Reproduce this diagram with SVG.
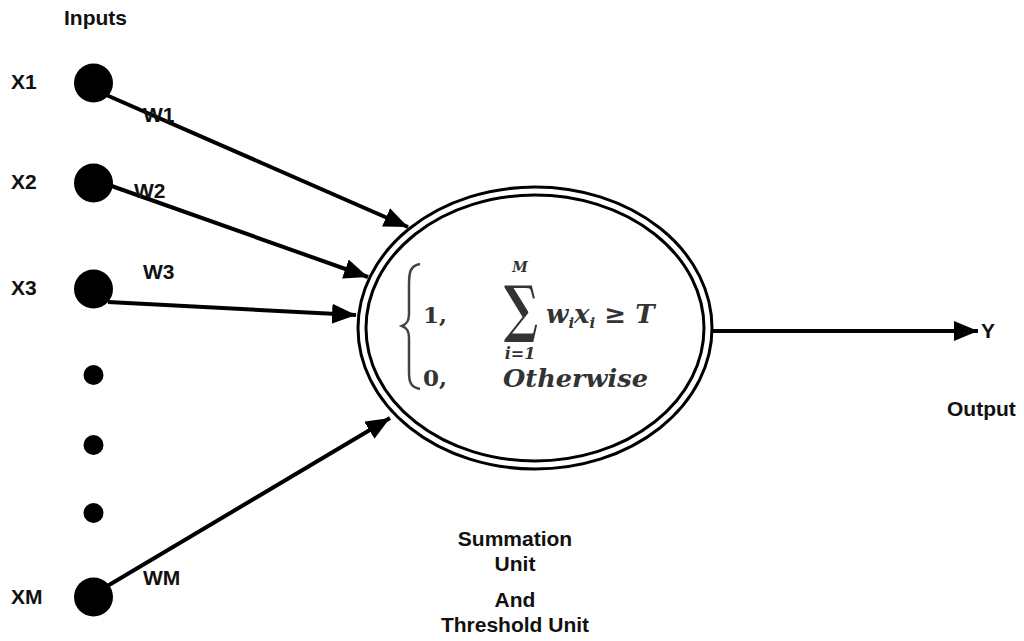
<svg xmlns="http://www.w3.org/2000/svg" width="1024" height="641" viewBox="0 0 1024 641">
<style>
.lbl{font-family:"Liberation Sans",Arial,sans-serif;font-weight:bold;font-size:21px;fill:#111}
.ctr{text-anchor:middle}
.math{font-family:"DejaVu Serif","Liberation Serif",serif;font-weight:bold;fill:#333}
.conn{stroke:#000;stroke-width:4;fill:none}
</style>
<defs>
<marker id="ah" markerUnits="userSpaceOnUse" markerWidth="26" markerHeight="22" refX="24" refY="10" orient="auto">
<path d="M0,0 L24,10 L0,20 Z" fill="#000"/>
</marker>
</defs>
<rect width="1024" height="641" fill="#fff"/>
<text class="lbl" x="64" y="25">Inputs</text>
<g id="x1"><circle cx="93.5" cy="83" r="19.5" fill="#000"/><text class="lbl" x="11" y="89">X1</text></g>
<g id="x2"><circle cx="93.5" cy="183" r="19.5" fill="#000"/><text class="lbl" x="11" y="189">X2</text></g>
<g id="x3"><circle cx="93.5" cy="289" r="19.5" fill="#000"/><text class="lbl" x="11" y="295">X3</text></g>
<g id="dots"><circle cx="93.5" cy="375" r="10" fill="#000"/><circle cx="93.5" cy="445" r="10" fill="#000"/><circle cx="93.5" cy="513" r="10" fill="#000"/></g>
<g id="xm"><circle cx="93.5" cy="597" r="19.5" fill="#000"/><text class="lbl" x="11" y="604">XM</text></g>
<g id="connectors">
<line class="conn" x1="104" y1="94" x2="408" y2="227" marker-end="url(#ah)"/>
<line class="conn" x1="106" y1="184" x2="368" y2="277" marker-end="url(#ah)"/>
<line class="conn" x1="108" y1="302" x2="356" y2="315" marker-end="url(#ah)"/>
<line class="conn" x1="104" y1="588" x2="390" y2="418" marker-end="url(#ah)"/>
<line class="conn" x1="712" y1="331" x2="978" y2="331" marker-end="url(#ah)"/>
</g>
<g id="weights">
<text class="lbl" x="143" y="122">W1</text>
<text class="lbl" x="134" y="198">W2</text>
<text class="lbl" x="143" y="279">W3</text>
<text class="lbl" x="143" y="585">WM</text>
</g>
<g id="unit">
<ellipse cx="535" cy="328" rx="177" ry="141" fill="#fff" stroke="#000" stroke-width="3"/>
<ellipse cx="535" cy="328" rx="169" ry="133" fill="#fff" stroke="#000" stroke-width="3"/>
<path d="M420,264 C410,266 409,272 409,285 L409,314 C409,321 407,324 402,326 C407,328 409,331 409,338 L409,372 C409,383 411,387 420,389" fill="none" stroke="#444" stroke-width="2.5"/>
<text class="math" x="423" y="323" font-size="23">1,</text>
<text class="math" x="423" y="386" font-size="23">0,</text>
<text class="math" x="520" y="272" font-size="14" font-style="italic" text-anchor="middle">M</text>
<text class="math" x="504" y="330" font-size="62" font-weight="normal" textLength="34" lengthAdjust="spacingAndGlyphs">∑</text>
<text class="math" x="520" y="359" font-size="16" font-style="italic" text-anchor="middle">i=1</text>
<text class="math" x="546" y="323" font-size="26" font-style="italic">w<tspan font-size="15" dy="5">i</tspan><tspan dy="-5">x</tspan><tspan font-size="15" dy="5">i</tspan><tspan dy="-5"> ≥ T</tspan></text>
<text class="math" x="503" y="387" font-size="24" font-style="italic" textLength="145" lengthAdjust="spacingAndGlyphs">Otherwise</text>
</g>
<text class="lbl" x="981" y="338">Y</text>
<text class="lbl" x="947" y="416">Output</text>
<g id="caption">
<text class="lbl ctr" x="515" y="546">Summation</text>
<text class="lbl ctr" x="515" y="571">Unit</text>
<text class="lbl ctr" x="515" y="607">And</text>
<text class="lbl ctr" x="515" y="632">Threshold Unit</text>
</g>
</svg>
